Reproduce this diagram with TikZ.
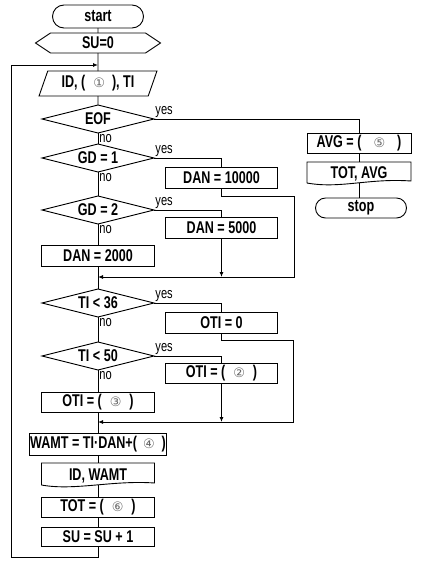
\documentclass[tikz,border=0pt]{standalone}
\usepackage{fontspec}
\setmainfont{Liberation Sans}[FakeStretch=0.74]
\newfontfamily\circfont{DejaVu Sans}
\newcommand{\cnum}[1]{{\circfont\mdseries\fontsize{13}{13}\selectfont\textcolor{black!60}{#1}}}
\usetikzlibrary{positioning, calc, arrows.meta, shapes.geometric, shapes.misc}
\tikzset{base/.style={font=\fontsize{17}{18}\selectfont\bfseries, inner sep=1pt, outer sep=0pt, line width=0.9pt}}
\tikzset{term/.style={base, draw, rounded rectangle, minimum width=93pt, minimum height=23pt}}
\tikzset{proc/.style={base, draw, rectangle, minimum width=113pt, minimum height=21pt}}
\tikzset{dec/.style={base, draw, diamond, aspect=4, minimum width=112pt, minimum height=28pt, inner sep=0pt}}
\tikzset{inp/.style={base, draw, trapezium, trapezium left angle=70, trapezium right angle=110, trapezium stretches=true, minimum width=119pt, minimum height=25pt}}
\tikzset{plain/.style={base, minimum width=113pt, minimum height=25pt}}
\tikzset{lab/.style={font=\fontsize{15}{16}\selectfont, inner sep=1pt}}
\tikzset{ln/.style={draw, line width=0.9pt}}
\tikzset{arr2/.style={draw, -{Latex[length=5pt,width=4pt]}, line width=0.9pt}}
\begin{document}
\begin{tikzpicture}
	\useasboundingbox (0,0) rectangle (428pt,-565pt);
	% main column
	\node[term] (start) at (98pt,-16.5pt) {start};
	\node[plain, minimum width=125pt, minimum height=20pt, below=5pt of start] (su0) {SU=0};
	\node[inp, below=18pt of su0] (in1) {ID, (\hspace{8pt}\cnum{①}\hspace{7pt}), TI};
	\node[dec, below=9pt of in1] (eof) {EOF};
	\node[dec, below=11pt of eof] (gd1) {GD = 1};
	\node[dec, below=24pt of gd1] (gd2) {GD = 2};
	\node[proc, below=21pt of gd2] (dan2) {DAN = 2000};
	\node[dec, below=23pt of dan2] (ti36) {TI < 36};
	\node[dec, below=25pt of ti36] (ti50) {TI < 50};
	\node[proc, minimum height=20pt, below=22pt of ti50] (oti3) {OTI = (\hspace{8pt}\cnum{③}\hspace{8pt})};
	\node[proc, minimum width=135pt, minimum height=22pt, below=21pt of oti3] (wamt) {WAMT = TI·DAN+(\hspace{6pt}\cnum{④}\hspace{7pt})};
	\node[plain, below=8pt of wamt] (out1) {ID, WAMT};
	\node[proc, minimum height=20pt, below=9pt of out1] (tot) {TOT = (\hspace{8pt}\cnum{⑥}\hspace{8pt})};
	\node[proc, minimum height=19pt, below=10pt of tot] (su1) {SU = SU + 1};
	% yes branches
	\node[proc, minimum width=112pt, below right=9pt and 11.5pt of gd1.east] (dan10) {DAN = 10000};
	\node[proc, minimum width=112pt, below right=7pt and 11.5pt of gd2.east] (dan5) {DAN = 5000};
	\node[proc, minimum width=112pt, below right=9pt and 11.5pt of ti36.east] (oti0) {OTI = 0};
	\node[proc, minimum width=112pt, minimum height=20pt, below right=7pt and 11.5pt of ti50.east] (oti2) {OTI = (\hspace{8pt}\cnum{②}\hspace{8pt})};
	\node[proc, minimum width=104pt, minimum height=20pt, below right=14pt and 153pt of eof.east] (avg) {AVG = (\hspace{12pt}\cnum{⑤}\hspace{12pt})};
	\node[plain, minimum width=104pt, minimum height=24pt, below=9pt of avg] (out2) {TOT, AVG};
	\node[term, minimum height=20pt, below=12pt of out2, xshift=2pt] (stop) {stop};
	\coordinate[below=12pt of su0] (back);
	\coordinate[below=11pt of dan2] (m1);
	\coordinate[below=10pt of oti3] (m2);
	\coordinate[below=11pt of su1] (m3);
	% hexagon and document outlines
	\draw[ln] (su0.west) -- ([xshift=15pt]su0.north west) -- ([xshift=-15pt]su0.north east) -- (su0.east)
		-- ([xshift=-15pt]su0.south east) -- ([xshift=15pt]su0.south west) -- cycle;
	\foreach \d in {out1, out2}
		\draw[ln] ([yshift=3pt]\d.south west) -- (\d.north west) -- (\d.north east) -- ([yshift=5pt]\d.south east)
			.. controls ([xshift=-42pt,yshift=8pt]\d.south east) and ([xshift=33pt,yshift=-3pt]\d.south west)
			.. ([yshift=3pt]\d.south west);
	% connectors
	\draw[ln] (start) -- (su0);
	\draw[ln] (su0) -- (in1);
	\draw[ln] (in1) -- (eof);
	\draw[ln] (eof) -- node[lab, at start, anchor=north west]{no} (gd1);
	\draw[ln] (gd1) -- node[lab, at start, anchor=north west]{no} (gd2);
	\draw[ln] (gd2) -- node[lab, at start, anchor=north west]{no} (dan2);
	\draw[ln] (dan2) -- (ti36);
	\draw[ln] (ti36) -- node[lab, at start, anchor=north west]{no} (ti50);
	\draw[ln] (ti50) -- node[lab, at start, anchor=north west]{no} (oti3);
	\draw[ln] (oti3) -- (wamt);
	\draw[ln] (wamt) -- (out1);
	\draw[ln] ([yshift=3pt]out1.south) -- (tot);
	\draw[ln] (tot) -- (su1);
	\draw[arr2] (su1) -- (m3) -| ([xshift=-87pt]back) -- (back);
	\draw[ln] (eof.east) -| node[lab, at start, anchor=south west]{yes} (avg.north);
	\draw[ln] (avg) -- (out2);
	\draw[ln] ([yshift=3pt]out2.south) -- (out2.south |- stop.north);
	\draw[ln] (gd1.east) -| node[lab, at start, anchor=south west]{yes} (dan10.north);
	\draw[arr2] (dan10.south) -- ++(0,-8pt) -| ([xshift=196pt]m1) -- (m1);
	\draw[ln] (gd2.east) -| node[lab, at start, anchor=south west]{yes} (dan5.north);
	\draw[arr2] (dan5) -- (dan5 |- m1);
	\draw[ln] (ti36.east) -| node[lab, at start, anchor=south west]{yes} (oti0.north);
	\draw[arr2] (oti0.south) -- ++(0,-7pt) -| ([xshift=195pt]m2) -- (m2);
	\draw[ln] (ti50.east) -| node[lab, at start, anchor=south west]{yes} (oti2.north);
	\draw[arr2] (oti2) -- (oti2 |- m2);
\end{tikzpicture}
\end{document}
